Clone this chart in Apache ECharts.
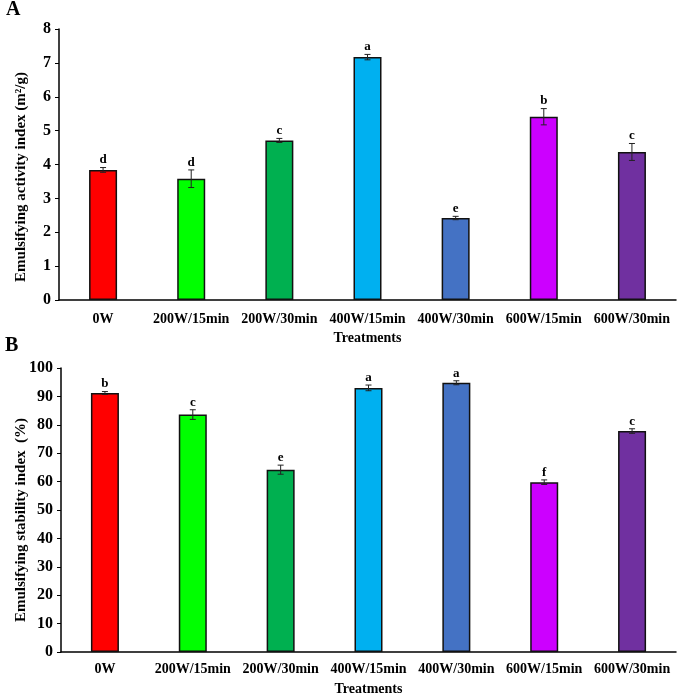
<!DOCTYPE html>
<html>
<head>
<meta charset="utf-8">
<script src="https://cdn.jsdelivr.net/npm/echarts@6/dist/echarts.min.js"></script>
<style>
  html, body { margin: 0; padding: 0; background: #fff; }
  #chart { width: 679px; height: 697px; }
</style>
</head>
<body>
<div id="chart"></div>
<script>
const treatments = ['0W', '200W/15min', '200W/30min', '400W/15min', '400W/30min', '600W/15min', '600W/30min']
const barColors = ['#FF0000', '#00FF00', '#00B050', '#00B0F0', '#4472C4', '#CC00FF', '#7030A0']

// panel A - emulsifying activity index
const eaiValues = [3.84, 3.58, 4.71, 7.17, 2.42, 5.41, 4.37]
const eaiErrors = [0.07, 0.26, 0.06, 0.08, 0.05, 0.24, 0.25]
const eaiLetters = ['d', 'd', 'c', 'a', 'e', 'b', 'c']

// panel B - emulsifying stability index
const esiValues = [91.2, 83.6, 64.2, 93.0, 94.8, 59.8, 77.8]
const esiErrors = [0.5, 1.7, 1.6, 1.0, 0.7, 0.8, 0.8]
const esiLetters = ['b', 'c', 'e', 'a', 'a', 'f', 'c']

const font = 'Liberation Serif'
const chart = echarts.init(document.getElementById('chart'))

function barData(values) {
  return values.map((v, i) => ({
    value: v,
    itemStyle: { color: barColors[i] }
  }))
}

function errSeries(values, errors, letters, idx) {
  return {
    type: 'custom',
    xAxisIndex: idx,
    yAxisIndex: idx,
    z: 5,
    data: values.map((v, i) => [i, v, errors[i]]),
    renderItem(params, api) {
      const i = api.value(0)
      const v = api.value(1)
      const e = api.value(2)
      const top = api.coord([i, v + e])
      const bot = api.coord([i, v - e])
      const cap = 3
      const style = { stroke: '#222', lineWidth: 1 }
      return {
        type: 'group',
        children: [
          { type: 'line', shape: { x1: top[0], y1: top[1], x2: bot[0], y2: bot[1] }, style },
          { type: 'line', shape: { x1: top[0] - cap, y1: top[1], x2: top[0] + cap, y2: top[1] }, style },
          { type: 'line', shape: { x1: bot[0] - cap, y1: bot[1], x2: bot[0] + cap, y2: bot[1] }, style },
          {
            type: 'text',
            x: top[0],
            y: top[1] - 1,
            style: {
              text: letters[params.dataIndex],
              fontFamily: font,
              fontWeight: 'bold',
              fontSize: 13,
              fill: '#000',
              align: 'center',
              verticalAlign: 'bottom'
            }
          }
        ]
      }
    }
  }
}

const axisText = { fontFamily: font, fontWeight: 'bold', color: '#000' }
const titleStyle = { fontFamily: font, fontWeight: 'bold', fontSize: 15, fill: '#000', align: 'center', verticalAlign: 'middle' }

chart.setOption({
  animation: false,
  graphic: [
    { type: 'text', left: 6, top: 0, style: { text: 'A', fontFamily: font, fontWeight: 'bold', fontSize: 20, fill: '#000' } },
    { type: 'text', left: 5, top: 336, style: { text: 'B', fontFamily: font, fontWeight: 'bold', fontSize: 20, fill: '#000' } },
    { type: 'text', x: 21, y: 177, rotation: Math.PI / 2, style: { ...titleStyle, text: 'Emulsifying activity index (m²/g)' } },
    { type: 'text', x: 21, y: 520, rotation: Math.PI / 2, style: { ...titleStyle, text: 'Emulsifying stability index  (%)' } }
  ],
  grid: [
    { left: 59, top: 29, width: 617, height: 271, outerBoundsMode: 'none' },
    { left: 61, top: 368, width: 615, height: 284, outerBoundsMode: 'none' }
  ],
  xAxis: [0, 1].map(idx => ({
    type: 'category',
    gridIndex: idx,
    data: treatments,
    name: 'Treatments',
    nameLocation: 'middle',
    nameGap: idx === 0 ? 31 : 30,
    nameTextStyle: { ...axisText, fontSize: 14 },
    axisLine: { lineStyle: { color: '#000', width: 1.5 } },
    axisTick: { show: false },
    axisLabel: { ...axisText, fontSize: 14, margin: idx === 0 ? 12 : 10, interval: 0 }
  })),
  yAxis: [
    {
      type: 'value',
      gridIndex: 0,
      min: 0,
      max: 8,
      interval: 1,
      splitLine: { show: false },
      axisLine: { show: true, lineStyle: { color: '#000', width: 1.5 } },
      axisTick: { show: true, length: 4, lineStyle: { color: '#000' } },
      axisLabel: { ...axisText, fontSize: 16, margin: 8 }
    },
    {
      type: 'value',
      gridIndex: 1,
      min: 0,
      max: 100,
      interval: 10,
      splitLine: { show: false },
      axisLine: { show: true, lineStyle: { color: '#000', width: 1.5 } },
      axisTick: { show: true, length: 4, lineStyle: { color: '#000' } },
      axisLabel: { ...axisText, fontSize: 16, margin: 8 }
    }
  ],
  series: [
    {
      type: 'bar',
      xAxisIndex: 0,
      yAxisIndex: 0,
      barWidth: 28,
      itemStyle: { borderColor: '#111', borderWidth: 1.5 },
      data: barData(eaiValues)
    },
    errSeries(eaiValues, eaiErrors, eaiLetters, 0),
    {
      type: 'bar',
      xAxisIndex: 1,
      yAxisIndex: 1,
      barWidth: 28,
      itemStyle: { borderColor: '#111', borderWidth: 1.5 },
      data: barData(esiValues)
    },
    errSeries(esiValues, esiErrors, esiLetters, 1)
  ]
})
</script>
</body>
</html>
